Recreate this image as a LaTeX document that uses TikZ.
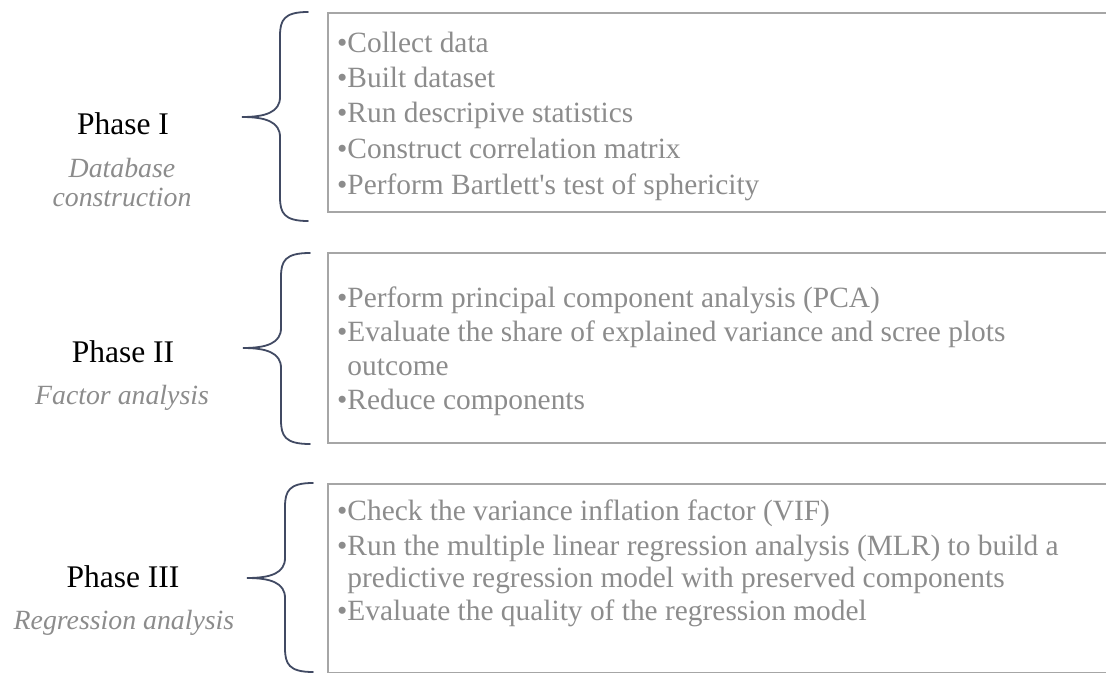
\documentclass[tikz,border=0pt]{standalone}
\usepackage{fontspec}
\setmainfont{Liberation Serif}
\definecolor{bracec}{HTML}{414A63}
\definecolor{boxc}{HTML}{A6A6A6}
\definecolor{txtc}{HTML}{8C8C8C}
\tikzset{
  phase/.style={inner sep=0pt, anchor=base, font=\fontsize{31.5}{34}\selectfont, text=black},
  sub/.style={inner sep=0pt, anchor=base, font=\fontsize{27.8}{30}\selectfont\itshape, text=txtc},
  item/.style={inner sep=0pt, anchor=base west, font=\fontsize{29.4}{32}\selectfont, text=txtc},
  frame/.style={draw=boxc, line width=1.6pt},
  brace/.style={draw=bracec, line width=1.8pt, line cap=round}
}
\newcommand{\mybrace}[6]{% xe xv xt ytop ymid ybot
  \draw[brace] (#1,#4) .. controls (#2+4,#4) and (#2,#4+8) .. (#2,#4+24)
    -- (#2,#5-20) .. controls (#2,#5-5) and (#2-14,#5) .. (#3,#5)
    .. controls (#2-14,#5) and (#2,#5+5) .. (#2,#5+20)
    -- (#2,#6-24) .. controls (#2,#6-8) and (#2+4,#6) .. (#1,#6);}
\begin{document}
\begin{tikzpicture}[x=1pt,y=-1pt]
\useasboundingbox (0,0) rectangle (1106,674);
% frames
\draw[frame] (1110,13) -- (328,13) -- (328,212) -- (1110,212);
\draw[frame] (1110,253) -- (328,253) -- (328,443) -- (1110,443);
\draw[frame] (1110,484) -- (328,484) -- (328,672.5) -- (1110,672.5);
% braces
\mybrace{308}{280}{242}{12}{117}{221}
\mybrace{310}{281}{243}{253}{348}{444}
\mybrace{313}{285}{247}{483}{578}{672}
% phase labels
\node[phase] (p1) at (123,135) {Phase I};
\node[sub] (s1a) at (122,178) {Database};
\node[sub] (s1b) at (122,207) {construction};
\node[phase] (p2) at (123,362) {Phase II};
\node[sub] (s2) at (122,404) {Factor analysis};
\node[phase] (p3) at (123,587) {Phase III};
\node[sub] (s3) at (124,629) {Regression analysis};
% box 1
\node[item] (a1) at (337,53) {•Collect data};
\node[item] (a2) at (337,88) {•Built dataset};
\node[item] (a3) at (337,123) {•Run descripive statistics};
\node[item] (a4) at (337,159) {•Construct correlation matrix};
\node[item] (a5) at (337,194) {•Perform Bartlett\textquotesingle s test of sphericity};
% box 2
\node[item] (b1) at (337,307) {•Perform principal component analysis (PCA)};
\node[item] (b2) at (337,341) {•Evaluate the share of explained variance and scree plots};
\node[item] (b2c) at (337,375) {\phantom{•}outcome};
\node[item] (b3) at (337,409) {•Reduce components};
% box 3
\node[item] (c1) at (337,520) {•Check the variance inflation factor (VIF)};
\node[item] (c2) at (337,555) {•Run the multiple linear regression analysis (MLR) to build a};
\node[item] (c2c) at (337,587) {\phantom{•}predictive regression model with preserved components};
\node[item] (c3) at (337,620) {•Evaluate the quality of the regression model};
\end{tikzpicture}
\end{document}
